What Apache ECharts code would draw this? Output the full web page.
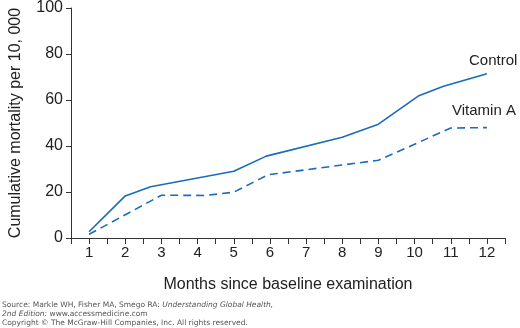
<!DOCTYPE html>
<html>
<head>
<meta charset="utf-8">
<script src="https://cdn.jsdelivr.net/npm/echarts@6/dist/echarts.min.js"></script>
<style>html,body{margin:0;padding:0;background:#fff}#c{width:520px;height:328px}</style>
</head>
<body>
<div id="c"></div>
<script>
const controlMonths = [1, 2, 2.7, 5, 5.9, 8, 9, 10.1, 10.8, 12];
const controlValues = [2.7, 18.3, 22.3, 29, 35.6, 43.8, 49.5, 61.7, 66, 71.4];
const vitaminMonths = [1, 3, 4.2, 5, 5.95, 9, 11, 12];
const vitaminValues = [1.6, 18.6, 18.5, 19.9, 27.5, 33.8, 47.8, 48];
const xTickLabels = ['1','2','3','4','5','6','7','8','9','10','11','12'];
const yTicks = [0, 20, 40, 60, 80, 100];
const seriesNames = ['Control', 'Vitamin A'];

const blue = '#1a6cbb';
const font = 'Liberation Sans, Arial, sans-serif';
const chart = echarts.init(document.getElementById('c'));
chart.setOption({
  animation: false,
  grid: { left: 61, right: 15, top: 6, bottom: 90 },
  xAxis: {
    type: 'value', min: 0.5, max: 12.5, interval: 0.5,
    name: 'Months since baseline examination', nameLocation: 'middle', nameGap: 39,
    nameTextStyle: { fontFamily: font, fontSize: 16, color: '#222' },
    axisLine: { lineStyle: { color: '#333', width: 1 } },
    axisTick: { show: true, length: 6, lineStyle: { color: '#333' } },
    splitLine: { show: false },
    axisLabel: {
      fontFamily: font, fontSize: 15, color: '#222', margin: 7,
      showMinLabel: true, showMaxLabel: true,
      formatter: v => (Number.isInteger(v) && xTickLabels.includes(String(v))) ? String(v) : ''
    }
  },
  yAxis: {
    type: 'value', min: yTicks[0], max: yTicks[yTicks.length - 1], interval: 20,
    name: 'Cumulative mortality per 10, 000', nameLocation: 'middle', nameGap: 47,
    nameTextStyle: { fontFamily: font, fontSize: 16, color: '#222' },
    axisLine: { show: true, lineStyle: { color: '#333', width: 1 } },
    axisTick: { show: true, length: 5, lineStyle: { color: '#333' } },
    splitLine: { show: false },
    axisLabel: { fontFamily: font, fontSize: 16, color: '#222', margin: 8 }
  },
  series: [
    {
      name: seriesNames[0], type: 'line', symbol: 'none',
      data: controlMonths.map((m, i) => [m, controlValues[i]]),
      lineStyle: { color: blue, width: 1.6 }
    },
    {
      name: seriesNames[1], type: 'line', symbol: 'none',
      data: vitaminMonths.map((m, i) => [m, vitaminValues[i]]),
      lineStyle: { color: blue, width: 1.6, type: [8, 5] }
    }
  ],
  graphic: [
    { type: 'text', left: 469, top: 53, style: { text: seriesNames[0], font: '15px ' + font, fill: '#222' } },
    { type: 'text', left: 452, top: 103, style: { text: seriesNames[1], font: '15px ' + font, fill: '#222' } },
    { type: 'text', left: 2, top: 301, style: { rich: { n: { fontFamily: 'DejaVu Sans', fontSize: 7.5, fill: '#555' }, i: { fontFamily: 'DejaVu Sans', fontSize: 7.5, fontStyle: 'italic', fill: '#555' } }, text: '{n|Source: Markle WH, Fisher MA, Smego RA: }{i|Understanding Global Health,}' } },
    { type: 'text', left: 2, top: 310, style: { rich: { n: { fontFamily: 'DejaVu Sans', fontSize: 7.5, fill: '#555' }, i: { fontFamily: 'DejaVu Sans', fontSize: 7.5, fontStyle: 'italic', fill: '#555' } }, text: '{i|2nd Edition:}{n| www.accessmedicine.com}' } },
    { type: 'text', left: 2, top: 319, style: { text: 'Copyright \u00a9 The McGraw-Hill Companies, Inc. All rights reserved.', font: '7.5px DejaVu Sans', fill: '#555' } }
  ]
});
</script>
</body>
</html>
